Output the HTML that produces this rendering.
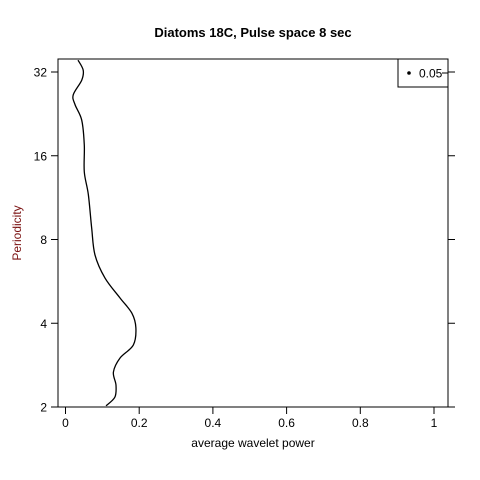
<!DOCTYPE html>
<html><head><meta charset="utf-8"><style>
body{margin:0;background:#fff}
svg{display:block;font-family:"Liberation Sans",Arial,sans-serif}
</style></head><body>
<svg id="chart" width="480" height="480">
<rect width="480" height="480" fill="#fff"/>
<text x="253" y="37" text-anchor="middle" font-size="13" font-weight="bold">Diatoms 18C, Pulse space 8 sec</text>
<rect x="58" y="59" width="390" height="348" fill="none" stroke="#000"/>
<g id="xaxis"></g>
<g id="yaxis"></g>
<text x="253" y="447" text-anchor="middle" font-size="12">average wavelet power</text>
<text transform="translate(21,233) rotate(-90)" text-anchor="middle" font-size="12" fill="#7a1010">Periodicity</text>
<path id="curve" fill="none" stroke="#000" stroke-width="1.3"/>
<g>
<rect x="398" y="59" width="50" height="28" fill="#fff" stroke="#000"/>
<circle cx="409" cy="73" r="1.8" fill="#000"/>
<text x="419" y="77.5" font-size="12">0.05</text>
<line x1="442" y1="73" x2="448" y2="73" stroke="#000"/>
</g>
</svg>
<script>
const periods=[35.3,32.5,29.9,26.5,24.4,21.5,17.5,14.0,11.6,8.8,7.04,5.82,4.93,4.35,3.85,3.34,3.0,2.67,2.4,2.17,2.02];
const power=[0.034,0.048,0.044,0.021,0.026,0.044,0.051,0.051,0.062,0.071,0.080,0.107,0.148,0.180,0.191,0.184,0.148,0.130,0.137,0.134,0.110];
const xTicks=[0,0.2,0.4,0.6,0.8,1];
const xTickLabels=["0","0.2","0.4","0.6","0.8","1"];
const yTicks=[2,4,8,16,32];
const yTickLabels=["2","4","8","16","32"];
const NS="http://www.w3.org/2000/svg";
function xs(v){return 65.5+v*368.5;}
function ys(p){return 407-(Math.log2(p)-1)*83.75;}
function mk(tag,attrs,parent){const e=document.createElementNS(NS,tag);for(const k in attrs)e.setAttribute(k,attrs[k]);parent.appendChild(e);return e;}
const xa=document.getElementById('xaxis');
xTicks.forEach((v,i)=>{
 const l=mk('line',{x1:xs(v),x2:xs(v),y1:407,y2:414,stroke:'#000'},xa);
 
 
 const t=mk('text',{x:xs(v),y:427,'text-anchor':'middle','font-size':12},xa);
 t.textContent=xTickLabels[i];
 
 
});
const ya=document.getElementById('yaxis');
yTicks.forEach((v,i)=>{
 const l=mk('line',{x1:51,x2:58,y1:ys(v),y2:ys(v),stroke:'#000'},ya);
 
 
 const l2=mk('line',{x1:448,x2:455,y1:ys(v),y2:ys(v),stroke:'#000'},ya);
 
 
 const t=mk('text',{x:47,y:ys(v)+4.5,'text-anchor':'end','font-size':12},ya);
 t.textContent=yTickLabels[i];
 
 
});
const pts=periods.map((p,i)=>[xs(power[i]),ys(p)]);
let d='M'+pts[0][0]+','+pts[0][1];
for(let i=0;i<pts.length-1;i++){
 const p0=pts[Math.max(0,i-1)],p1=pts[i],p2=pts[i+1],p3=pts[Math.min(pts.length-1,i+2)];
 const c1=[p1[0]+(p2[0]-p0[0])/6,p1[1]+(p2[1]-p0[1])/6];
 const c2=[p2[0]-(p3[0]-p1[0])/6,p2[1]-(p3[1]-p1[1])/6];
 d+=' C'+c1+' '+c2+' '+p2;
}
document.getElementById('curve').setAttribute('d',d);
</script>
</body></html>
